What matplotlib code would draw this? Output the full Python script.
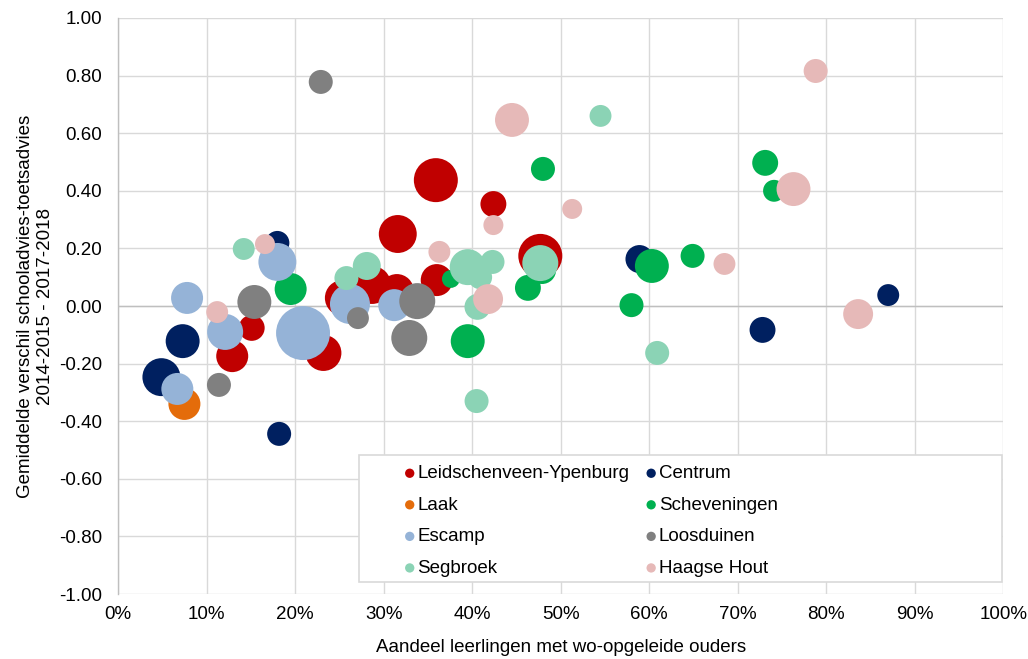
import matplotlib
matplotlib.use("Agg")
import matplotlib.pyplot as plt
from matplotlib.ticker import PercentFormatter, FormatStrFormatter, MultipleLocator
from matplotlib.patches import Rectangle

plt.rcParams['font.family'] = ['Liberation Sans', 'DejaVu Sans']
plt.rcParams['axes.unicode_minus'] = False

# ---- data: share of pupils with university-educated parents (x), mean difference (y), size ----
districts = ["Leidschenveen-Ypenburg", "Centrum", "Laak", "Scheveningen",
             "Escamp", "Loosduinen", "Segbroek", "Haagse Hout"]
colors = ["#C00000", "#002060", "#E46C0A", "#00B050",
          "#95B3D7", "#808080", "#8BD3B5", "#E6B9B8"]

ly_x = [0.359, 0.316, 0.424, 0.477, 0.360, 0.254, 0.287, 0.315, 0.232, 0.129, 0.151]
ly_y = [0.437, 0.250, 0.354, 0.174, 0.090, 0.028, 0.073, 0.052, -0.163, -0.174, -0.076]
ly_s = [121, 90, 42, 121, 64, 81, 90, 72, 81, 64, 42]

ce_x = [0.049, 0.073, 0.182, 0.180, 0.589, 0.728, 0.870]
ce_y = [-0.247, -0.122, -0.444, 0.219, 0.163, -0.083, 0.038]
ce_s = [90, 72, 36, 36, 49, 42, 30]

la_x = [0.075]
la_y = [-0.340]
la_s = [64]

sc_x = [0.195, 0.480, 0.376, 0.463, 0.395, 0.479, 0.580, 0.603, 0.649, 0.731, 0.741]
sc_y = [0.059, 0.476, 0.094, 0.063, -0.122, 0.125, 0.003, 0.139, 0.174, 0.497, 0.400]
sc_s = [64, 36, 20, 42, 72, 49, 36, 72, 36, 42, 30]

es_x = [0.078, 0.067, 0.121, 0.180, 0.209, 0.262, 0.312]
es_y = [0.028, -0.288, -0.090, 0.153, -0.094, 0.007, 0.003]
es_s = [64, 64, 81, 90, 182, 100, 64]

lo_x = [0.229, 0.154, 0.114, 0.271, 0.338, 0.329]
lo_y = [0.778, 0.014, -0.274, -0.042, 0.017, -0.111]
lo_s = [36, 72, 36, 30, 81, 81]

se_x = [0.545, 0.142, 0.258, 0.281, 0.395, 0.423, 0.409, 0.406, 0.477, 0.405, 0.609]
se_y = [0.660, 0.198, 0.097, 0.139, 0.135, 0.153, 0.100, -0.003, 0.149, -0.330, -0.163]
se_s = [30, 30, 36, 49, 81, 36, 36, 42, 81, 36, 36]

hh_x = [0.788, 0.763, 0.836, 0.685, 0.445, 0.513, 0.424, 0.363, 0.418, 0.166, 0.112]
hh_y = [0.816, 0.406, -0.028, 0.146, 0.646, 0.337, 0.281, 0.188, 0.024, 0.215, -0.021]
hh_s = [36, 72, 56, 30, 72, 25, 25, 30, 56, 25, 30]

series_x = [ly_x, ce_x, la_x, sc_x, es_x, lo_x, se_x, hh_x]
series_y = [ly_y, ce_y, la_y, sc_y, es_y, lo_y, se_y, hh_y]
series_s = [ly_s, ce_s, la_s, sc_s, es_s, lo_s, se_s, hh_s]

x_label = "Aandeel leerlingen met wo-opgeleide ouders"
y_label = "Gemiddelde verschil schooladvies-toetsadvies\n2014-2015 - 2017-2018"

SIZE_SCALE = 8.29  # points^2 per size unit
FS = 13.5

fig = plt.figure(figsize=(10.28, 6.59), dpi=100)
ax = fig.add_axes([0.1148, 0.0986, 0.8612, 0.8741])

handles = []
for name, col, xs, ys, ss in zip(districts, colors, series_x, series_y, series_s):
    h = ax.scatter(xs, ys, s=[v * SIZE_SCALE for v in ss], color=col,
                   edgecolors='none', label=name, zorder=3)
    handles.append(h)

ax.set_xlim(0, 1.0)
ax.set_ylim(-1.0, 1.0)
ax.xaxis.set_major_locator(MultipleLocator(0.1))
ax.yaxis.set_major_locator(MultipleLocator(0.2))
ax.xaxis.set_major_formatter(PercentFormatter(1.0, decimals=0))
ax.yaxis.set_major_formatter(FormatStrFormatter('%.2f'))
ax.tick_params(axis='both', length=0, labelsize=FS, colors='black')
ax.tick_params(axis='x', pad=8.5)
ax.tick_params(axis='y', pad=11.5)

ax.grid(True, color='#D9D9D9', linewidth=1.0, zorder=0)
ax.set_axisbelow(True)
for sp in ['top', 'right', 'bottom']:
    ax.spines[sp].set_visible(False)
ax.spines['left'].set_color('#BFBFBF')
ax.spines['left'].set_linewidth(1.0)
ax.axhline(0, color='#BFBFBF', linewidth=1.0, zorder=1)

ax.set_xlabel(x_label, fontsize=FS, labelpad=12)
ax.set_ylabel(y_label, fontsize=FS, linespacing=1.25)
ax.yaxis.set_label_coords(-0.0723, 0.5)

# legend frame
frame = Rectangle((0.272, 0.021), 0.726, 0.220, transform=ax.transAxes,
                  facecolor='white', edgecolor='#D9D9D9', linewidth=1.2, zorder=5)
ax.add_patch(frame)

# legend laid out row-wise (matplotlib fills columns first)
order = [0, 2, 4, 6, 1, 3, 5, 7]
leg = ax.legend([handles[i] for i in order], [districts[i] for i in order],
                ncol=2, loc='upper left', bbox_to_anchor=(0.3242, 0.2239),
                frameon=False, fontsize=FS, markerscale=1.0,
                handlelength=0.5, handletextpad=0.15, columnspacing=0.92,
                labelspacing=0.77, borderpad=0.0, borderaxespad=0.0)
for h in leg.legend_handles:
    h.set_sizes([45])
leg.set_zorder(6)

fig.savefig("out.png", dpi=100)
